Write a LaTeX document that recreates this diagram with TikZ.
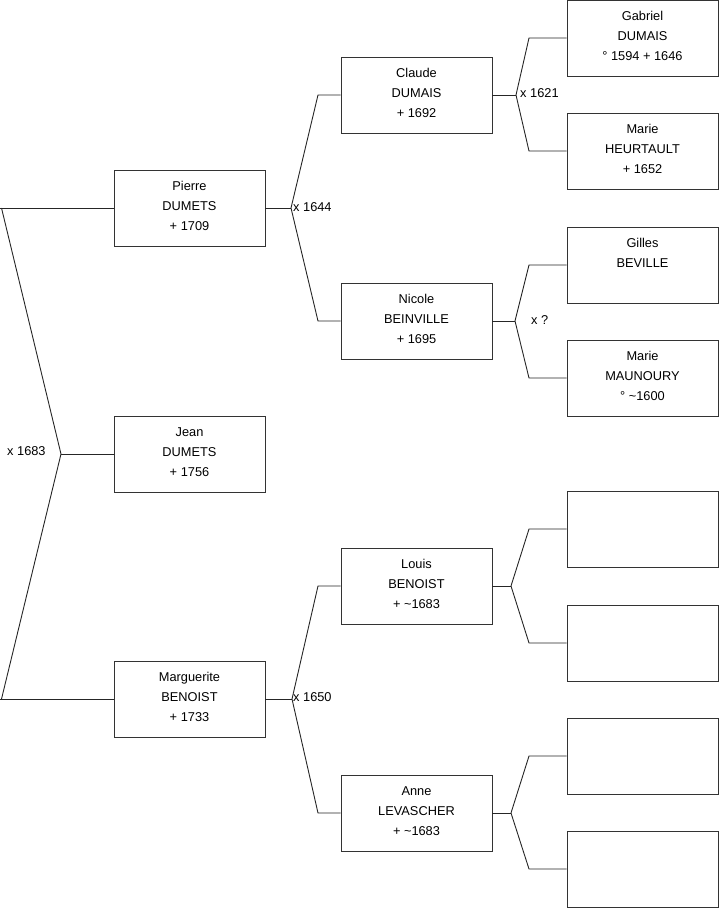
\documentclass[tikz,border=0pt]{standalone}
\usepackage{fontspec}
\setmainfont{Liberation Sans}
\begin{document}
\begin{tikzpicture}[x=1pt,y=-1pt,
  person/.style={draw=black!80,line width=0.9pt,minimum width=151pt,minimum height=76pt,inner sep=0pt,align=center,text depth=4pt,font=\fontsize{12.8}{20}\selectfont},
  link/.style={draw=black!85,line width=0.9pt},
  mlabel/.style={anchor=west,inner sep=0pt,font=\fontsize{12.8}{14}\selectfont}]
\useasboundingbox (0,0) rectangle (719,908);
% generation 1
\node[person] (pierre) at (189.5,208) {Pierre\\DUMETS\\+ 1709};
\node[person] (jean) at (189.5,454) {Jean\\DUMETS\\+ 1756};
\node[person] (marg) at (189.5,699) {Marguerite\\BENOIST\\+ 1733};
% generation 2
\node[person] (claude) at (416.5,95) {Claude\\DUMAIS\\+ 1692};
\node[person] (nicole) at (416.5,321) {Nicole\\BEINVILLE\\+ 1695};
\node[person] (louis) at (416.5,586) {Louis\\BENOIST\\+ \textasciitilde1683};
\node[person] (anne) at (416.5,813) {Anne\\LEVASCHER\\+ \textasciitilde1683};
% generation 3
\node[person] (gabriel) at (642.5,38) {Gabriel\\DUMAIS\\° 1594 + 1646};
\node[person] (marieh) at (642.5,151) {Marie\\HEURTAULT\\+ 1652};
\node[person] (gilles) at (642.5,265) {Gilles\\BEVILLE\\\strut};
\node[person] (mariem) at (642.5,378) {Marie\\MAUNOURY\\° \textasciitilde1600};
\node[person] (u1) at (642.5,529) {};
\node[person] (u2) at (642.5,643) {};
\node[person] (u3) at (642.5,756) {};
\node[person] (u4) at (642.5,869) {};
% fork coordinates
\coordinate (f0) at (61,454);
\coordinate (e0a) at (1.5,208);
\coordinate (e0b) at (1.5,699);
\coordinate (f1) at (291,208);
\coordinate (e1a) at (318,95);
\coordinate (e1b) at (318,321);
\coordinate (f2) at (516,95);
\coordinate (e2a) at (529,38);
\coordinate (e2b) at (529,151);
\coordinate (f3) at (515,321);
\coordinate (e3a) at (529,265);
\coordinate (e3b) at (529,378);
\coordinate (f4) at (292,699);
\coordinate (e4a) at (318,586);
\coordinate (e4b) at (318,813);
\coordinate (f5) at (511,586);
\coordinate (e5a) at (529,529);
\coordinate (e5b) at (529,643);
\coordinate (f6) at (511,813);
\coordinate (e6a) at (529,756);
\coordinate (e6b) at (529,869);
% connectors
\draw[link] (pierre.west) -- (0,208);
\draw[link] (e0a) -- (f0) -- (e0b);
\draw[link] (marg.west) -- (0,699);
\draw[link] (f0) -- (jean.west);
\draw[link] (pierre.east) -- (f1);
\draw[link] (claude.west) -- (e1a) -- (f1) -- (e1b) -- (nicole.west);
\draw[link] (claude.east) -- (f2);
\draw[link] (gabriel.west) -- (e2a) -- (f2) -- (e2b) -- (marieh.west);
\draw[link] (nicole.east) -- (f3);
\draw[link] (gilles.west) -- (e3a) -- (f3) -- (e3b) -- (mariem.west);
\draw[link] (marg.east) -- (f4);
\draw[link] (louis.west) -- (e4a) -- (f4) -- (e4b) -- (anne.west);
\draw[link] (louis.east) -- (f5);
\draw[link] (u1.west) -- (e5a) -- (f5) -- (e5b) -- (u2.west);
\draw[link] (anne.east) -- (f6);
\draw[link] (u3.west) -- (e6a) -- (f6) -- (e6b) -- (u4.west);
% marriage labels
\node[mlabel] (m0) at (7,451) {x 1683};
\node[mlabel] (m1) at (293,207) {x 1644};
\node[mlabel] (m2) at (520,93) {x 1621};
\node[mlabel] (m3) at (531,320) {x ?};
\node[mlabel] (m4) at (293,697) {x 1650};
\end{tikzpicture}
\end{document}
